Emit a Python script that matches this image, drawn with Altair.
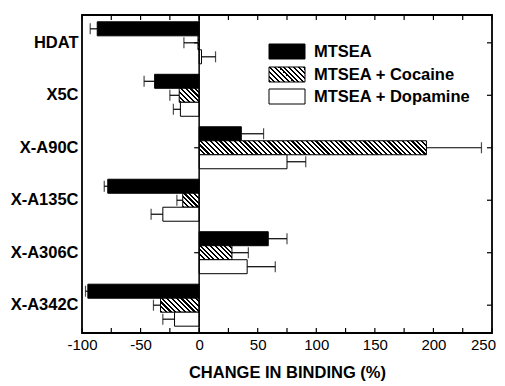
import altair as alt
import pandas as pd

categories = ["HDAT", "X5C", "X-A90C", "X-A135C", "X-A306C", "X-A342C"]
series = ["MTSEA", "MTSEA + Cocaine", "MTSEA + Dopamine"]
mtsea = [-87, -38, 36, -78, 59, -95]
mtsea_err = [6, 9, 19, 3, 16, 2]
cocaine = [-1, -17, 194, -14, 28, -33]
cocaine_err = [12, 8, 47, 5, 14, 6]
dopamine = [2, -16, 75, -31, 41, -21]
dopamine_err = [12, 6, 16, 10, 24, 10]
x_ticks = list(range(-100, 251, 25))
x_labels = list(range(-100, 251, 50))

W, H = 410, 318
XMIN, XMAX = -100, 250
PAD_IN, PAD_OUT = 0.2, 0.13
step = H / (len(categories) - PAD_IN + 2 * PAD_OUT)
bar_h = step * (1 - PAD_IN) / 3
ppu = W / (XMAX - XMIN)
FONT = "Liberation Sans"

rows = []
for s, vals, errs in [(series[0], mtsea, mtsea_err), (series[1], cocaine, cocaine_err),
                      (series[2], dopamine, dopamine_err)]:
    for c, v, e in zip(categories, vals, errs):
        sign = 1 if v >= 0 else -1
        rows.append({"cat": c, "series": s, "value": v, "end": v + sign * e})
df = pd.DataFrame(rows)


def hatch(w, h, period=4.8, ink=0.45):
    L = w + h
    c = L / (w * w + h * h)
    stops = []
    s = 0.0
    while s < L - 1e-6:
        a = s / L
        b = min((s + ink * period) / L, 1)
        e = min((s + period) / L, 1)
        stops += [{"offset": a, "color": "black"}, {"offset": b, "color": "black"},
                  {"offset": b, "color": "white"}, {"offset": e, "color": "white"}]
        s += period
    return alt.LinearGradient(gradient="linear", x1=0, y1=1, x2=c * w, y2=1 - c * h, stops=stops)


xs = alt.Scale(domain=[XMIN, XMAX], nice=False, zero=False)
ys = alt.Scale(domain=categories, paddingInner=PAD_IN, paddingOuter=PAD_OUT)
yo = alt.Scale(domain=series, paddingInner=0, paddingOuter=0)

X = alt.X("value:Q", scale=xs,
          axis=alt.Axis(values=x_labels, ticks=False, domain=False, grid=False, labelFlush=False,
                        labelExpr="'' + datum.value",
                        labelOffset={"condition": {"test": "datum.value == 250", "value": -9},
                                     "value": 0},
                        labelFont=FONT, labelFontSize=15, labelColor="black", labelPadding=4,
                        title="CHANGE IN BINDING (%)", titleFont=FONT, titleFontSize=16.5,
                        titleFontWeight="bold", titleColor="black", titlePadding=12))
Y = alt.Y("cat:N", scale=ys, sort=categories,
          axis=alt.Axis(ticks=False, domain=False, title=None, labelFont=FONT,
                        labelFontSize=16.5, labelFontWeight="bold", labelColor="black",
                        labelPadding=4))
YO = alt.YOffset("series:N", scale=yo, sort=series)

base = alt.Chart(df)
cat_df = pd.DataFrame({"cat": categories})

# small ticks at zero origin line (hidden behind bars)
zero_ticks = alt.Chart(cat_df).mark_rule(
    color="black", strokeWidth=1.2, x2Offset=-5).encode(
    x=alt.datum(0, scale=xs), x2=alt.datum(0), y=Y)

bars_black = base.transform_filter(alt.datum.series == series[0]).mark_bar(
    fill="black", stroke="black", strokeWidth=1).encode(x=X, x2=alt.datum(0), y=Y, yOffset=YO)
bars_white = base.transform_filter(alt.datum.series == series[2]).mark_bar(
    fill="white", stroke="black", strokeWidth=1).encode(x=X, x2=alt.datum(0), y=Y, yOffset=YO)

hatch_layers = []
for c, v in zip(categories, cocaine):
    w = max(abs(v) * ppu, 1)
    hatch_layers.append(
        base.transform_filter((alt.datum.series == series[1]) & (alt.datum.cat == c)).mark_bar(
            fill=hatch(w, bar_h), stroke="black", strokeWidth=1).encode(
            x=X, x2=alt.datum(0), y=Y, yOffset=YO))

err_lines = base.mark_rule(color="black", strokeWidth=1.2).encode(
    x=X, x2="end:Q", y=Y, yOffset=YO)
err_caps = base.mark_tick(color="black", thickness=1.2, size=11).encode(
    x=alt.X("end:Q", scale=xs), y=Y, yOffset=YO)

zero_line = alt.Chart(pd.DataFrame({"z": [0]})).mark_rule(color="black", strokeWidth=1.5).encode(
    x=alt.X("z:Q", scale=xs), y=alt.value(0), y2=alt.value(H))

tick_df = pd.DataFrame({"t": x_ticks})
top_ticks = alt.Chart(tick_df).mark_rule(color="black", strokeWidth=1.2).encode(
    x=alt.X("t:Q", scale=xs), y=alt.value(0), y2=alt.value(5))
bot_ticks = alt.Chart(tick_df).mark_rule(color="black", strokeWidth=1.2).encode(
    x=alt.X("t:Q", scale=xs), y=alt.value(H - 5), y2=alt.value(H))
right_ticks = alt.Chart(cat_df).mark_rule(
    color="black", strokeWidth=1.2).encode(
    y=Y, x=alt.value(W - 5), x2=alt.value(W))

# legend
LX, LW, LH = 187, 36, 15
leg_tops = [29, 52, 74]
legend_layers = []
fills = ["black", hatch(LW, LH), "white"]
for s, top, f in zip(series, leg_tops, fills):
    d = pd.DataFrame({"label": [s]})
    legend_layers.append(alt.Chart(d).mark_rect(fill=f, stroke="black", strokeWidth=1).encode(
        x=alt.value(LX), x2=alt.value(LX + LW), y=alt.value(top), y2=alt.value(top + LH)))
    legend_layers.append(alt.Chart(d).mark_text(
        align="left", baseline="middle", font=FONT, fontSize=16.5, fontWeight="bold",
        color="black").encode(x=alt.value(LX + 45), y=alt.value(top + LH / 2 + 0.5), text="label:N"))

chart = alt.layer(
    zero_ticks, bars_black, *hatch_layers, bars_white, err_lines, err_caps, zero_line,
    top_ticks, bot_ticks, right_ticks, *legend_layers
).properties(
    width=W, height=H,
    autosize=alt.AutoSizeParams(type="none"),
    padding={"left": 74, "top": 7, "right": 5, "bottom": 50},
    background="white",
).configure_view(stroke="black", strokeWidth=1.8)

chart.save("out.html", embed_options={"renderer": "svg", "actions": False})
